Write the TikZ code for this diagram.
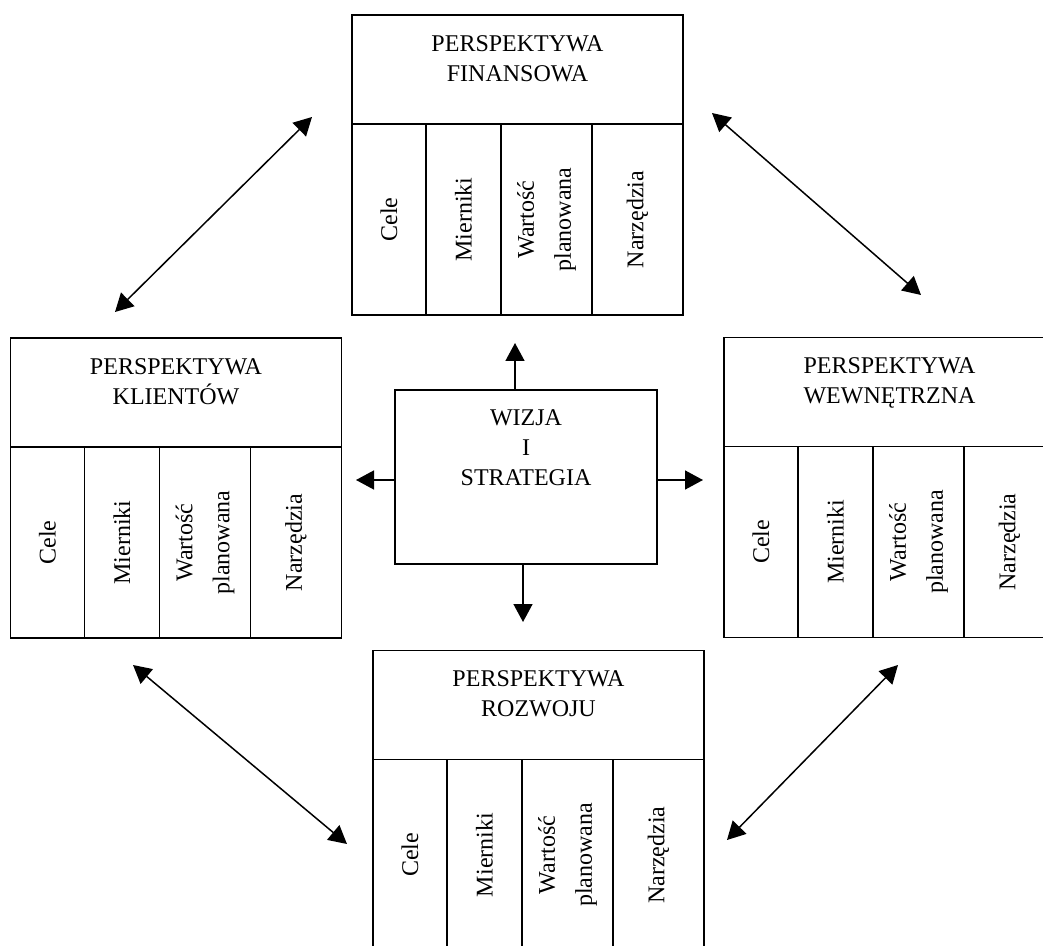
\documentclass[tikz,border=0pt]{standalone}
\usepackage{fontspec}
\setmainfont{Liberation Serif}
\usetikzlibrary{positioning,arrows.meta}
% four columns under the header node #1
\newcommand\kolumny[1]{%
  \node[col,minimum width=37pt,below right=0pt and 0pt of #1.south west,label={[coltext]center:Cele}] (#1-1) {};
  \node[col,minimum width=37.5pt,right=0pt of #1-1,label={[coltext]center:Mierniki}] (#1-2) {};
  \node[col,minimum width=45.5pt,right=0pt of #1-2,label={[coltext]center:Wartość\\planowana}] (#1-3) {};
  \node[col,minimum width=45.5pt,right=0pt of #1-3,label={[coltext]center:Narzędzia}] (#1-4) {};
}
\newcommand\persp{PERSPEKTYWA}

\begin{document}
\begin{tikzpicture}[x=0.5pt,y=-0.5pt,
    head/.style={draw,line width=0.8pt,minimum width=165.5pt,minimum height=54.5pt,inner sep=0pt,outer sep=0pt},
    col/.style={draw,line width=0.8pt,minimum height=95.5pt,inner sep=0pt,outer sep=0pt},
    title/.style={anchor=north,yshift=-10pt,align=center,inner sep=0pt,font=\fontsize{12}{15}\selectfont},
    coltext/.style={rotate=90,align=center,inner sep=0pt,font=\fontsize{12}{18.5}\selectfont},
    arrow/.style={-{Triangle[length=9pt,width=9.5pt]},line width=0.75pt},
    biarrow/.style={{Triangle[length=9pt,width=9.5pt]}-{Triangle[length=9pt,width=9.5pt]},line width=0.75pt}
    ]
    \useasboundingbox (0,0) rectangle (1043,946);
    \clip (0,0) rectangle (1043,946);

    \node[head,label={[title]north:\persp\\FINANSOWA}] (fin) at (517.5,69.5) {};
    \node[head,label={[title]north:\persp\\KLIENTÓW}] (kli) at (176,392.5) {};
    \node[head,label={[title]north:\persp\\WEWNĘTRZNA}] (wew) at (889.5,392) {};
    \node[head,label={[title]north:\persp\\ROZWOJU}] (roz) at (538.5,705) {};
    \kolumny{fin}
    \kolumny{kli}
    \kolumny{wew}
    \kolumny{roz}

    \node[draw,line width=0.8pt,minimum width=131pt,minimum height=87pt,inner sep=0pt,
      label={[title]north:WIZJA\\I\\STRATEGIA}] (wizja) at (526,477) {};

    % arrow tips around the centre
    \coordinate (gora) at (515,343);
    \coordinate (dol) at (523,622);
    \coordinate (lewo) at (356,480);
    \coordinate (prawo) at (703,480);
    \draw[arrow] (wizja.north -| gora) -- (gora);
    \draw[arrow] (wizja.south -| dol) -- (dol);
    \draw[arrow] (wizja.west |- lewo) -- (lewo);
    \draw[arrow] (wizja.east |- prawo) -- (prawo);

    % links between the perspectives
    \coordinate (kf1) at (115,312);
    \coordinate (kf2) at (312,117);
    \coordinate (fw1) at (712,113);
    \coordinate (fw2) at (921,295);
    \coordinate (kr1) at (133,665);
    \coordinate (kr2) at (347,844);
    \coordinate (wr1) at (898,665);
    \coordinate (wr2) at (727,840);
    \draw[biarrow] (kf1) -- (kf2);
    \draw[biarrow] (fw1) -- (fw2);
    \draw[biarrow] (kr1) -- (kr2);
    \draw[biarrow] (wr1) -- (wr2);
\end{tikzpicture}
\end{document}
